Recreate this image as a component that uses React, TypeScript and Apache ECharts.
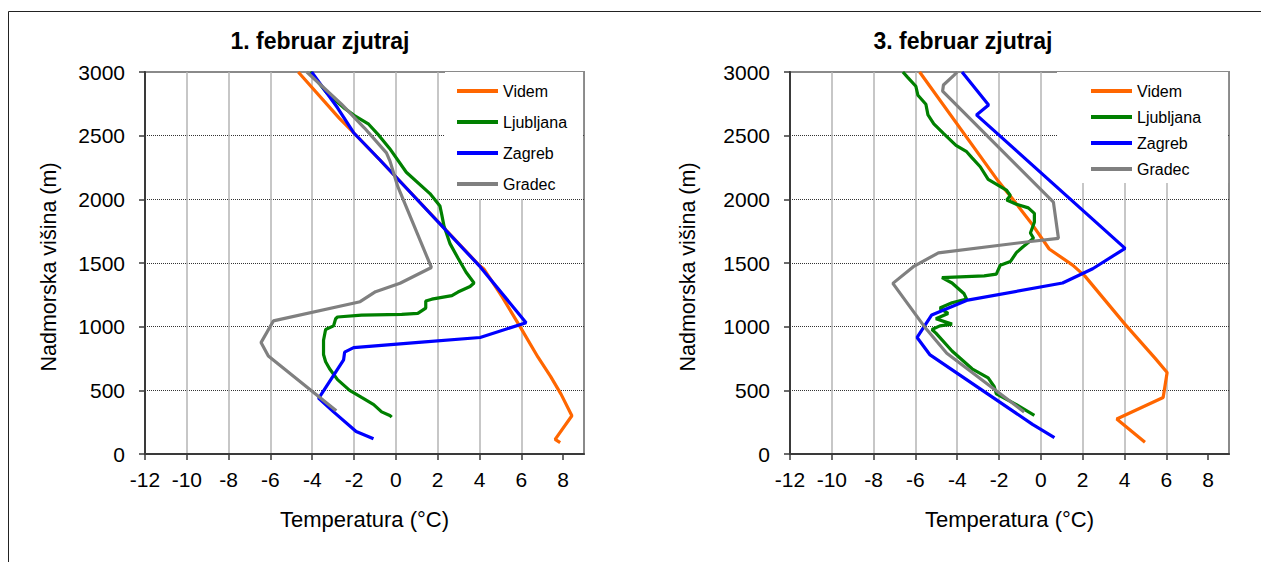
import React, { useEffect, useRef } from "react";
import * as echarts from "echarts";

const FONT = "'Liberation Sans', Arial, sans-serif";

const xTicks = [-12, -10, -8, -6, -4, -2, 0, 2, 4, 6, 8];
const seriesNames = ["Videm", "Ljubljana", "Zagreb", "Gradec"];
const seriesColors = ["#FF6600", "#008000", "#0000FF", "#808080"];
const chartTitles = ["1. februar zjutraj", "3. februar zjutraj"];
const xAxisName = "Temperatura (°C)";
const yAxisName = "Nadmorska višina (m)";

// [temperature °C, height m]
const feb1Videm = [
  [-4.67, 3000], [-2.7, 2636], [-2.02, 2523], [-0.76, 2309], [4.0, 1480], [4.2, 1455],
  [5.1, 1230], [5.94, 1000], [6.8, 760], [7.4, 610], [7.9, 470], [8.42, 300], [7.62, 115], [7.86, 89],
];
const feb1Ljubljana = [
  [-4.1, 3000], [-3.3, 2835], [-2.5, 2720], [-2.0, 2660], [-1.3, 2590], [-0.8, 2500], [-0.3, 2400],
  [0.5, 2213], [1.63, 2045], [2.11, 1947], [2.2, 1876], [2.3, 1792], [2.59, 1652], [2.97, 1539],
  [3.36, 1427], [3.74, 1343], [3.55, 1315], [2.97, 1272], [2.68, 1244], [1.72, 1216], [1.43, 1202],
  [1.43, 1146], [1.05, 1104], [0.28, 1096], [-1.64, 1090], [-2.79, 1076], [-2.88, 1062], [-2.98, 1006],
  [-3.36, 978], [-3.46, 893], [-3.46, 781], [-3.36, 725], [-3.17, 669], [-2.79, 584], [-2.21, 500],
  [-1.64, 444], [-1.06, 388], [-0.68, 331], [-0.29, 303], [-0.2, 289],
];
const feb1Zagreb = [
  [-4.03, 3000], [-2.79, 2719], [-2.02, 2523], [-0.76, 2309], [4.03, 1471], [6.23, 1031], [4.03, 915],
  [1.24, 879], [-2.02, 835], [-2.45, 800], [-2.5, 740], [-3.6, 460], [-3.7, 440], [-2.98, 331],
  [-1.9, 177], [-1.07, 120],
];
const feb1Gradec = [
  [-4.26, 3000], [-2.6, 2747], [-1.5, 2560], [-0.45, 2365], [-0.28, 2300], [0.09, 2101], [1.7, 1465],
  [0.2, 1341], [-0.97, 1275], [-1.71, 1196], [-5.86, 1045], [-6.45, 875], [-6.1, 770], [-2.85, 340],
];

const feb3Videm = [
  [-5.8, 3000], [-2.04, 2143], [-1.31, 1995], [-0.4, 1800], [0.4, 1610], [1.52, 1483], [2.1, 1399],
  [4.02, 1020], [5.46, 753], [6.04, 640], [5.85, 444], [3.63, 275], [4.98, 93],
];
const feb3Ljubljana = [
  [-6.6, 3000], [-6.37, 2958], [-5.98, 2888], [-5.88, 2817], [-5.5, 2747], [-5.4, 2663], [-5.12, 2593],
  [-4.66, 2518], [-4.06, 2424], [-3.55, 2374], [-3.29, 2326], [-2.9, 2256], [-2.52, 2157], [-1.65, 2073],
  [-1.46, 2031], [-1.63, 1995], [-1.17, 1961], [-0.6, 1933], [-0.31, 1890], [-0.31, 1820], [-0.5, 1736],
  [-0.35, 1694], [-0.88, 1624], [-1.17, 1581], [-1.46, 1511], [-1.94, 1483], [-2.13, 1413], [-2.71, 1399],
  [-4.73, 1385], [-4.25, 1343], [-3.67, 1258], [-3.55, 1216], [-4.25, 1188], [-4.83, 1146], [-4.44, 1104],
  [-5.02, 1062], [-4.25, 1020], [-4.83, 1006], [-5.21, 978], [-5.02, 949], [-4.25, 809], [-3.29, 669],
  [-2.52, 598], [-2.23, 528], [-2.13, 472], [-1.17, 388], [-0.31, 303],
];
const feb3Zagreb = [
  [-3.77, 3000], [-2.5, 2740], [-3.08, 2663], [4.03, 1615], [2.48, 1455], [1.04, 1343], [-3.5, 1209],
  [-5.22, 1092], [-5.92, 915], [-5.3, 778], [-0.4, 233], [0.65, 129],
];
const feb3Gradec = [
  [-4.0, 3000], [-4.15, 2975], [-4.66, 2898], [-4.7, 2850], [0.6, 1978], [0.84, 1694], [-0.6, 1667],
  [-4.9, 1580], [-6.1, 1471], [-7.08, 1340], [-5.5, 985], [-4.5, 791], [-0.8, 330],
];

const panelData = [
  [feb1Videm, feb1Ljubljana, feb1Zagreb, feb1Gradec],
  [feb3Videm, feb3Ljubljana, feb3Zagreb, feb3Gradec],
];

const gridLefts = [145, 790];
const GRID_TOP = 72;
const GRID_W = 439;
const GRID_H = 382;

export default function App() {
  const ref = useRef<HTMLDivElement>(null);

  useEffect(() => {
    if (!ref.current) return;
    const chart = echarts.init(ref.current, null, { renderer: "svg" });

    const grids = gridLefts.map((left) => ({
      left,
      top: GRID_TOP,
      width: GRID_W,
      height: GRID_H,
      show: true,
      borderColor: "#8a8a8a",
      borderWidth: 2,
      backgroundColor: "#ffffff",
    }));

    const plain = (v: number) => String(v);

    const xAxes = gridLefts.map((_, i) => ({
      type: "value",
      gridIndex: i,
      min: -12,
      max: 9,
      interval: 2,
      axisLine: { show: true, onZero: false, lineStyle: { color: "#3a3a3a", width: 2 } },
      axisTick: { show: true, length: 6, lineStyle: { color: "#3a3a3a", width: 1.5 }, customValues: xTicks },
      axisLabel: { customValues: xTicks, formatter: plain, fontSize: 21, color: "#000", margin: 15, fontFamily: FONT },
      splitLine: { show: true, showMinLine: false, showMaxLine: false, lineStyle: { color: "#b4b4b4", width: 1.5 } },
    }));

    const yAxes = gridLefts.map((_, i) => ({
      type: "value",
      gridIndex: i,
      min: 0,
      max: 3000,
      interval: 500,
      axisLine: { show: true, onZero: false, lineStyle: { color: "#3a3a3a", width: 2 } },
      axisTick: { show: true, length: 6, lineStyle: { color: "#3a3a3a", width: 1.5 } },
      axisLabel: { formatter: plain, fontSize: 21, color: "#000", margin: 20, fontFamily: FONT },
      splitLine: { show: true, showMinLine: false, showMaxLine: false, lineStyle: { color: "#333", width: 1, type: [1, 1] } },
    }));

    const series: any[] = [];
    panelData.forEach((panel, pi) => {
      panel.forEach((data, si) => {
        series.push({
          type: "line",
          name: seriesNames[si],
          xAxisIndex: pi,
          yAxisIndex: pi,
          data,
          showSymbol: false,
          symbol: "none",
          color: seriesColors[si],
          lineStyle: { width: 3.2, color: seriesColors[si] },
          z: 2 + si,
        });
      });
    });

    const legendCommon = {
      orient: "vertical",
      top: GRID_TOP,
      data: seriesNames,
      icon: "rect",
      itemWidth: 41,
      itemHeight: 4,
      backgroundColor: "#ffffff",
      selectedMode: false,
      textStyle: { fontSize: 16, lineHeight: 16, color: "#000", fontFamily: FONT, padding: [0, 0, 0, 0] },
    };
    const legends = [
      { ...legendCommon, left: 445, itemGap: 15, padding: [11, 16, 7, 12] },
      { ...legendCommon, left: 1057, itemGap: 10, padding: [11, 27, 6, 34] },
    ];

    const titleX = [320, 963];
    const yNameX = [49, 688];
    const graphic: any[] = [
      { type: "line", shape: { x1: 8.5, y1: 11.5, x2: 1261, y2: 11.5 }, style: { stroke: "#222", lineWidth: 1 }, silent: true },
      { type: "line", shape: { x1: 8.5, y1: 11.5, x2: 8.5, y2: 562 }, style: { stroke: "#222", lineWidth: 1 }, silent: true },
    ];
    [0, 1].forEach((i) => {
      graphic.push({
        type: "text",
        x: titleX[i],
        y: 41,
        style: { text: chartTitles[i], font: `bold 23px ${FONT}`, fill: "#000", align: "center", verticalAlign: "middle" },
      });
      graphic.push({
        type: "text",
        x: gridLefts[i] + GRID_W / 2,
        y: 519,
        style: { text: xAxisName, font: `22px ${FONT}`, fill: "#000", align: "center", verticalAlign: "middle" },
      });
      graphic.push({
        type: "text",
        x: yNameX[i],
        y: 267,
        rotation: Math.PI / 2,
        style: { text: yAxisName, font: `21.5px ${FONT}`, fill: "#000", align: "center", verticalAlign: "middle" },
      });
    });

    chart.setOption({
      animation: false,
      backgroundColor: "#ffffff",
      textStyle: { fontFamily: FONT },
      grid: grids,
      xAxis: xAxes,
      yAxis: yAxes,
      legend: legends,
      series,
      graphic,
    });

    return () => chart.dispose();
  }, []);

  return (
    <div
      ref={ref}
      style={{ position: "fixed", left: 0, top: 0, width: 1261, height: 562, background: "#fff" }}
    />
  );
}
